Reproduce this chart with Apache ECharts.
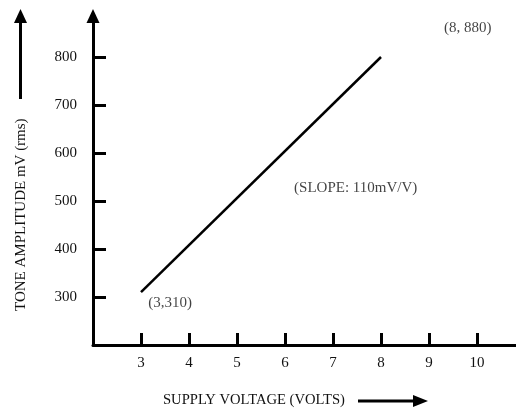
<!DOCTYPE html>
<html>
<head>
<meta charset="utf-8">
<script src="https://cdn.jsdelivr.net/npm/echarts@6/dist/echarts.min.js"></script>
<style>html,body{margin:0;padding:0;background:#fff}#c{width:516px;height:418px}</style>
</head>
<body>
<div id="c"></div>
<script>
// Data
const voltage = [3, 8];
const amplitude = [310, 800];
const xTicks = [3, 4, 5, 6, 7, 8, 9, 10];
const yTicks = [300, 400, 500, 600, 700, 800];
const xTitle = 'SUPPLY VOLTAGE (VOLTS)';
const yTitle = 'TONE AMPLITUDE mV (rms)';
const noteTexts = ['(3,310)', '(SLOPE: 110mV/V)', '(8, 880)'];
const noteX = [3.15, 6.19, 9.31];
const noteY = [288, 527, 860];

const FONT = '"Liberation Serif", "DejaVu Serif", serif';
const chart = echarts.init(document.getElementById('c'), null, {renderer: 'canvas'});
const lineData = voltage.map((v, i) => [v, amplitude[i]]);
const notes = noteTexts.map((t, i) => ({name: t, value: [noteX[i], noteY[i]]}));

chart.setOption({
  animation: false,
  backgroundColor: '#fff',
  grid: {left: 93, top: 16, width: 422.4, bottom: 73, containLabel: false},
  xAxis: {
    type: 'value', min: 2, max: 10.8, interval: 1,
    splitLine: {show: false},
    axisLine: {show: true, onZero: false, lineStyle: {color: '#000', width: 3}},
    axisTick: {show: true, inside: true, length: 12, customValues: xTicks, lineStyle: {color: '#000', width: 3}},
    axisLabel: {customValues: xTicks, margin: 11, color: '#111', fontFamily: FONT, fontSize: 15}
  },
  yAxis: {
    type: 'value', min: 200, max: 885.4, interval: 100,
    splitLine: {show: false},
    axisLine: {show: true, onZero: false, symbol: ['none', 'triangle'], symbolSize: [13, 14], lineStyle: {color: '#000', width: 3}},
    axisTick: {show: true, inside: true, length: 13, customValues: yTicks, lineStyle: {color: '#000', width: 3}},
    axisLabel: {customValues: yTicks, margin: 16, color: '#111', fontFamily: FONT, fontSize: 15}
  },
  series: [
    {
      type: 'line', data: lineData, symbol: 'none',
      lineStyle: {color: '#000', width: 2.5}
    },
    {
      type: 'scatter', data: notes, symbolSize: 0,
      label: {show: true, position: 'right', distance: 0, formatter: p => p.name,
        color: '#111', fontFamily: FONT, fontSize: 15}
    }
  ],
  graphic: [
    {type: 'text', left: 163, top: 393, style: {text: xTitle, fill: '#111', font: '14.6px ' + FONT}},
    {type: 'text', x: 21, y: 311, rotation: Math.PI / 2,
      style: {text: yTitle, fill: '#111', font: '15px ' + FONT, textAlign: 'left', textVerticalAlign: 'middle'},
      originX: 0, originY: 0},
    {type: 'line', shape: {x1: 20.5, y1: 99, x2: 20.5, y2: 20}, style: {stroke: '#000', lineWidth: 3}},
    {type: 'polygon', shape: {points: [[20.5, 9], [14, 23], [27, 23]]}, style: {fill: '#000'}},
    {type: 'line', shape: {x1: 358, y1: 401, x2: 416, y2: 401}, style: {stroke: '#000', lineWidth: 3}},
    {type: 'polygon', shape: {points: [[428, 401], [413, 395], [413, 407]]}, style: {fill: '#000'}}
  ]
});
</script>
</body>
</html>
